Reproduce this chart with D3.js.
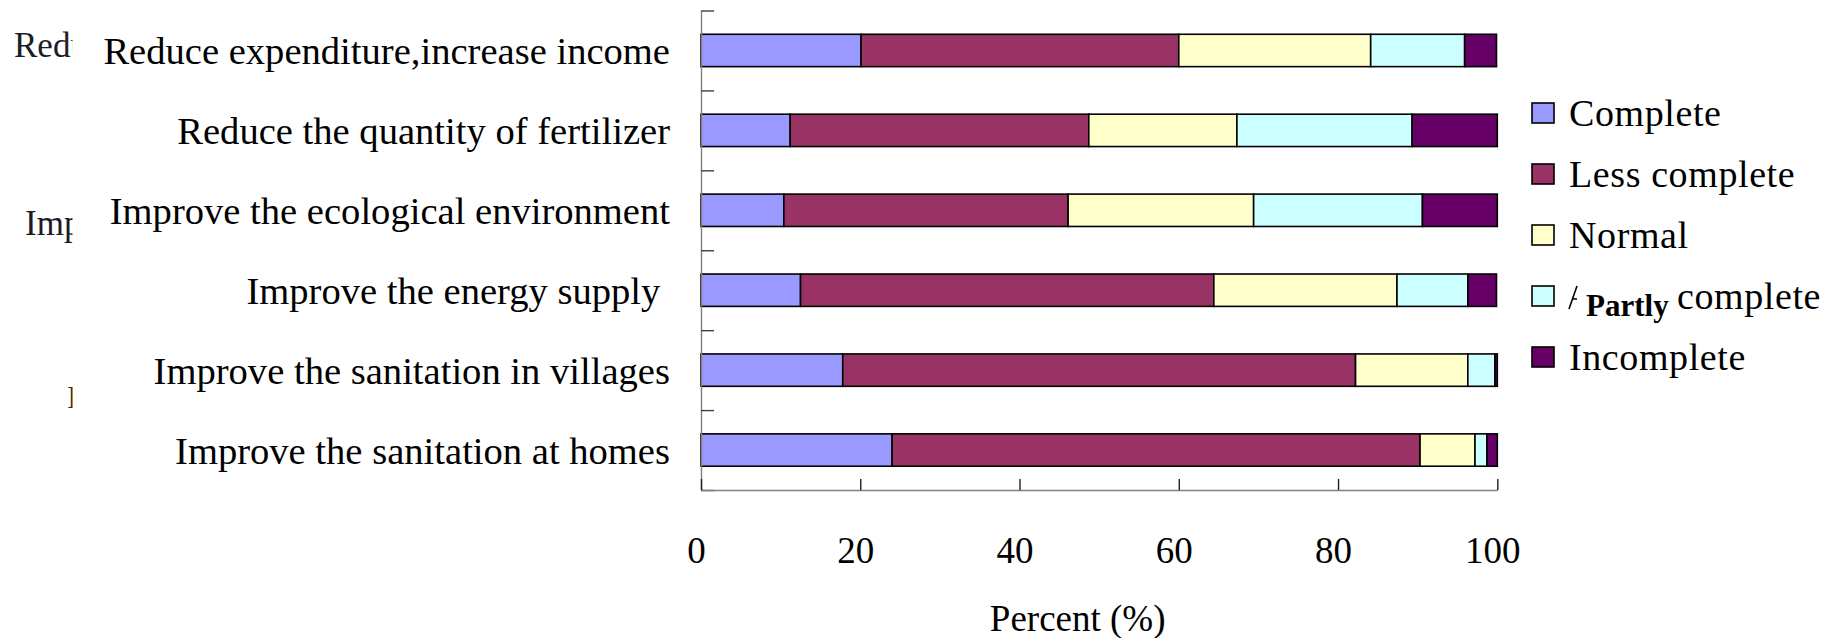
<!DOCTYPE html>
<html>
<head>
<meta charset="utf-8">
<script src="https://cdn.jsdelivr.net/npm/d3@7/dist/d3.min.js"></script>
<style>
  html, body { margin: 0; padding: 0; background: #fff; }
  svg { display: block; font-family: "Liberation Serif", "Times New Roman", serif; }
</style>
</head>
<body>
<svg id="chart" width="1834" height="638"></svg>
<script>
// ---- data ----
const categories = [
  "Reduce expenditure,increase income",
  "Reduce the quantity of fertilizer",
  "Improve the ecological environment",
  "Improve the energy supply\u00a0",
  "Improve the sanitation in villages",
  "Improve the sanitation at homes"
];
const seriesNames = ["Complete", "Less complete", "Normal", "Partly complete", "Incomplete"];
const complete       = [20.1, 11.2, 10.4, 12.5, 17.8, 24.0];
const lessComplete   = [39.9, 37.5, 35.7, 51.9, 64.4, 66.3];
const normal         = [24.1, 18.6, 23.3, 23.0, 14.1, 6.9];
const partlyComplete = [11.8, 22.0, 21.2, 8.9, 3.4, 1.5];
const incomplete     = [4.0, 10.7, 9.4, 3.6, 0.3, 1.3];
const xTickValues = [0, 20, 40, 60, 80, 100];
const xTitle = "Percent (%)";
// cut-off fragments of an underlying copy of the labels (visible at far left)
const ghostLabels = ["Redu", "Impr", "I"];

const colors = ["#9999FF", "#993366", "#FFFFCC", "#CCFFFF", "#660066"];

// ---- build table ----
const seriesValues = [complete, lessComplete, normal, partlyComplete, incomplete];
const table = categories.map((c, i) => {
  const row = { category: c };
  seriesNames.forEach((s, j) => row[s] = seriesValues[j][i]);
  return row;
});
const stacked = d3.stack().keys(seriesNames)(table);

// ---- layout ----
const svg = d3.select("#chart");
const plotLeft = 701, plotRight = 1497.3, plotTop = 10.5, plotBottom = 490;

const x = d3.scaleLinear().domain([0, 100]).range([plotLeft, plotRight]);
const y = d3.scaleBand().domain(categories).range([plotTop, plotBottom])
  .paddingInner(0.595).paddingOuter(0.2975);
const color = d3.scaleOrdinal().domain(seriesNames).range(colors);

// ---- ghost fragments at far left ----
const defs = svg.append("defs");
defs.append("clipPath").attr("id", "ghostClip")
  .append("rect").attr("x", 0).attr("y", 0).attr("width", 72.5).attr("height", 638);
const ghostPos = [{x: 14, y: 57, s: 35}, {x: 25, y: 235, s: 35}, {x: 67, y: 408, s: 32}];
svg.append("g").attr("clip-path", "url(#ghostClip)")
  .selectAll("text").data(ghostLabels).join("text")
  .attr("x", (d, i) => ghostPos[i].x)
  .attr("y", (d, i) => ghostPos[i].y)
  .attr("font-size", (d, i) => ghostPos[i].s)
  .attr("fill", (d, i) => i === 2 ? "#3a2a14" : "#1c1c28")
  .text(d => d);

// ---- bars ----
svg.append("g").selectAll("g").data(stacked).join("g")
  .attr("fill", d => color(d.key))
  .selectAll("rect").data(d => d).join("rect")
  .attr("x", d => x(d[0]))
  .attr("y", d => y(d.data.category))
  .attr("width", d => x(d[1]) - x(d[0]))
  .attr("height", y.bandwidth())
  .attr("stroke", "#000")
  .attr("stroke-width", 1.6);

// ---- y axis (ticks at category boundaries) ----
const yEdge = d3.scaleLinear().domain([0, categories.length]).range([plotTop, plotBottom]);
const yAxisG = svg.append("g").attr("transform", `translate(${plotLeft},0)`)
  .call(d3.axisRight(yEdge).ticks(categories.length).tickSize(13).tickSizeOuter(0).tickFormat(""));
yAxisG.select(".domain").attr("stroke", "#808080").attr("stroke-width", 1.4);
yAxisG.selectAll(".tick line").attr("stroke", "#404040").attr("stroke-width", 1.4);

// category labels
svg.append("g").selectAll("text").data(categories).join("text")
  .attr("x", 670)
  .attr("y", d => y(d) + y.bandwidth() / 2 + 14)
  .attr("text-anchor", "end")
  .attr("font-size", 38.6)
  .attr("fill", "#000")
  .style("white-space", "pre")
  .text(d => d);

// ---- x axis ----
const xAxisG = svg.append("g").attr("transform", `translate(0,${plotBottom})`)
  .call(d3.axisBottom(x).tickValues(xTickValues).tickSizeInner(-11).tickSizeOuter(0));
xAxisG.select(".domain").attr("stroke", "#808080").attr("stroke-width", 1.4);
xAxisG.selectAll(".tick line").attr("stroke", "#202020").attr("stroke-width", 1.4);
xAxisG.selectAll(".tick text")
  .attr("y", 73).attr("dy", 0).attr("dx", -5)
  .attr("font-size", 37)
  .attr("font-family", "'Liberation Serif', 'Times New Roman', serif")
  .attr("fill", "#000");

svg.append("text")
  .attr("x", x(47.3)).attr("y", 631)
  .attr("text-anchor", "middle")
  .attr("font-size", 37)
  .attr("fill", "#000")
  .text(xTitle);

// ---- legend ----
const legendTop = 113, legendStep = 61;
const lg = svg.append("g").selectAll("g").data(seriesNames).join("g")
  .attr("transform", (d, i) => `translate(1532,${legendTop + i * legendStep})`);
lg.append("rect")
  .attr("x", 0).attr("y", -10).attr("width", 22).attr("height", 20)
  .attr("fill", d => color(d)).attr("stroke", "#000").attr("stroke-width", 1.6);

lg.filter((d, i) => i !== 3).append("text")
  .attr("x", 37).attr("y", 13)
  .attr("font-size", 38)
  .attr("letter-spacing", 0.6)
  .attr("fill", "#000")
  .text(d => d);

// the "Partly complete" entry: a cut-off glyph of an older word, with bold "Partly" pasted over it
const partly = lg.filter((d, i) => i === 3);
const words = seriesNames[3].split(" ");
partly.append("path")
  .attr("d", "M37,13 L45,-10 M40,3 L45,3")
  .attr("fill", "none").attr("stroke", "#000").attr("stroke-width", 1.6);
partly.append("text").attr("x", 54).attr("y", 20).attr("font-size", 31).attr("font-weight", "bold")
  .attr("fill", "#000").text(words[0]);
partly.append("text").attr("x", 145).attr("y", 13).attr("font-size", 38)
  .attr("letter-spacing", 0.6).attr("fill", "#000").text(words[1]);
</script>
</body>
</html>
